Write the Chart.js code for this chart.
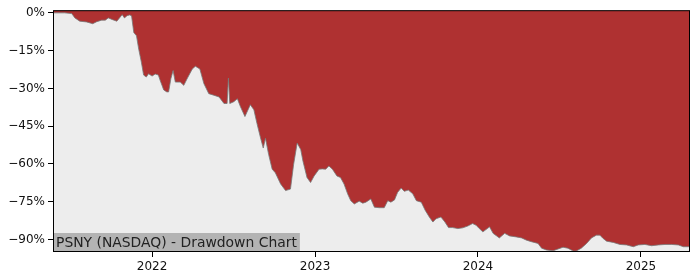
<!DOCTYPE html>
<html lang="en">
<head>
<meta charset="UTF-8">
<title>PSNY (NASDAQ) - Drawdown Chart</title>
<script src="https://cdn.jsdelivr.net/npm/chart.js@4.4.1/dist/chart.umd.min.js"></script>
<style>
    body { margin: 0; background: #fff; }
    .wrap { width: 700px; height: 280px; }
</style>
</head>
<body>
<div class="wrap"><canvas id="ddChart"></canvas></div>
<script>
// drawdown from the running high, in %
const dates = [
    '2021-05-24', '2021-06-19', '2021-07-05', '2021-07-12', '2021-07-23', '2021-08-07', '2021-08-21', '2021-08-30',
    '2021-09-10', '2021-09-18', '2021-09-25', '2021-10-03', '2021-10-14', '2021-10-20', '2021-10-26', '2021-10-31',
    '2021-11-06', '2021-11-12', '2021-11-16', '2021-11-21', '2021-11-27', '2021-12-02', '2021-12-08', '2021-12-13',
    '2021-12-19', '2021-12-24', '2022-01-01', '2022-01-08', '2022-01-15', '2022-01-19', '2022-01-27', '2022-02-03',
    '2022-02-07', '2022-02-12', '2022-02-17', '2022-02-22', '2022-03-05', '2022-03-13', '2022-03-20', '2022-04-01',
    '2022-04-08', '2022-04-18', '2022-04-27', '2022-05-08', '2022-05-19', '2022-05-31', '2022-06-11', '2022-06-18',
    '2022-06-21', '2022-06-24', '2022-07-03', '2022-07-11', '2022-07-18', '2022-07-28', '2022-08-09', '2022-08-17',
    '2022-08-24', '2022-09-01', '2022-09-07', '2022-09-12', '2022-09-19', '2022-09-27', '2022-10-04', '2022-10-16',
    '2022-10-27', '2022-11-07', '2022-11-14', '2022-11-22', '2022-11-30', '2022-12-05', '2022-12-14', '2022-12-22',
    '2022-12-30', '2023-01-10', '2023-01-17', '2023-01-25', '2023-02-01', '2023-02-09', '2023-02-19', '2023-02-27',
    '2023-03-07', '2023-03-15', '2023-03-22', '2023-03-30', '2023-04-10', '2023-04-18', '2023-04-25', '2023-05-06',
    '2023-05-14', '2023-05-25', '2023-06-05', '2023-06-13', '2023-06-20', '2023-06-28', '2023-07-05', '2023-07-13',
    '2023-07-20', '2023-07-29', '2023-08-08', '2023-08-16', '2023-08-27', '2023-09-05', '2023-09-14', '2023-09-22',
    '2023-09-29', '2023-10-10', '2023-10-19', '2023-10-27', '2023-11-05', '2023-11-17', '2023-11-28', '2023-12-09',
    '2023-12-20', '2023-12-28', '2024-01-04', '2024-01-12', '2024-01-19', '2024-01-27', '2024-02-04', '2024-02-18',
    '2024-03-01', '2024-03-12', '2024-03-27', '2024-04-08', '2024-04-19', '2024-04-30', '2024-05-15', '2024-05-23',
    '2024-06-03', '2024-06-18', '2024-06-29', '2024-07-10', '2024-07-21', '2024-08-02', '2024-08-09', '2024-08-20',
    '2024-09-01', '2024-09-12', '2024-09-23', '2024-10-01', '2024-10-08', '2024-10-16', '2024-10-31', '2024-11-15',
    '2024-11-30', '2024-12-15', '2024-12-26', '2025-01-10', '2025-01-25', '2025-02-09', '2025-02-24', '2025-03-11',
    '2025-03-26', '2025-04-06', '2025-04-21'
];
const drawdown = [
    0, 0, -0.3, -2.0, -3.3, -3.6, -4.3, -3.5,
    -2.9, -2.9, -2.0, -2.6, -3.3, -2.0, -0.7, -2.0,
    -1.1, -0.8, -1.2, -7.8, -9.1, -14.4, -19.6, -24.7,
    -25.5, -24.2, -25.1, -24.3, -24.7, -26.8, -30.6, -31.4,
    -31.4, -26.2, -22.9, -27.5, -27.5, -28.8, -26.3, -22.3,
    -21.2, -22.3, -28.1, -32.1, -32.7, -33.4, -36.0, -36.0,
    -25.9, -36.0, -35.3, -34.1, -37.3, -41.2, -36.5, -38.5,
    -44.0, -49.7, -53.7, -49.8, -56.2, -62.1, -63.5, -68.0,
    -70.6, -70.0, -60.2, -51.7, -54.3, -58.9, -65.4, -67.4,
    -64.8, -62.1, -62.0, -62.1, -60.8, -62.1, -64.8, -65.4,
    -68.0, -71.9, -74.6, -75.9, -74.8, -75.6, -75.2, -73.9,
    -77.2, -77.4, -77.4, -74.6, -75.2, -74.3, -71.3, -69.6,
    -70.9, -70.4, -71.9, -74.6, -75.2, -78.5, -81.1, -83.1,
    -81.8, -81.1, -83.1, -85.3, -85.3, -85.7, -85.4, -84.7,
    -83.7, -84.4, -85.7, -87.0, -86.1, -85.0, -87.6, -89.4,
    -87.6, -88.6, -89.0, -89.4, -90.3, -90.9, -91.6, -93.5,
    -94.2, -94.5, -93.8, -93.1, -93.5, -94.6, -94.6, -93.5,
    -91.6, -89.4, -88.3, -88.3, -89.6, -90.7, -91.2, -92.0,
    -92.2, -92.9, -92.2, -92.0, -92.5, -92.2, -92.0, -92.0,
    -92.2, -92.9, -92.9
];
const yTicks = [0, -15, -30, -45, -60, -75, -90];
const yearTicks = [2022, 2023, 2024, 2025];
const chartTitle = 'PSNY (NASDAQ) - Drawdown Chart';

function toYear(s) {
    const [y, m, d] = s.split('-').map(Number);
    const start = Date.UTC(y, 0, 1);
    const end = Date.UTC(y + 1, 0, 1);
    return y + (Date.UTC(y, m - 1, d) - start) / (end - start);
}

const points = dates.map((d, i) => ({ x: toYear(d), y: drawdown[i] }));

const frame = {
    id: 'frame',
    beforeDraw(chart) {
        const { ctx, chartArea: a } = chart;
        ctx.save();
        ctx.fillStyle = '#ededed';
        ctx.fillRect(a.left, a.top, a.right - a.left, a.bottom - a.top);
        ctx.restore();
    },
    afterDraw(chart) {
        const { ctx, chartArea: a } = chart;
        ctx.save();
        // title box in the lower left corner
        ctx.font = '13.9px "DejaVu Sans"';
        const w = ctx.measureText(chartTitle).width;
        ctx.fillStyle = '#b3b3b3';
        ctx.fillRect(a.left, a.bottom - 19, w + 6, 19);
        ctx.fillStyle = '#222';
        ctx.textBaseline = 'alphabetic';
        ctx.fillText(chartTitle, a.left + 3, a.bottom - 5);
        // spines
        ctx.strokeStyle = '#000';
        ctx.lineWidth = 1;
        ctx.strokeRect(a.left + 0.5, a.top + 0.5, a.right - a.left - 1, a.bottom - a.top - 1);
        ctx.restore();
    }
};

new Chart(document.getElementById('ddChart'), {
    type: 'line',
    data: {
        datasets: [{
            data: points,
            borderColor: 'rgba(120,120,120,0.8)',
            borderWidth: 1,
            backgroundColor: '#af3131',
            fill: 'end',
            pointRadius: 0,
            tension: 0
        }]
    },
    options: {
        responsive: true,
        maintainAspectRatio: false,
        animation: false,
        layout: { padding: { top: 7, right: 10, left: 0, bottom: 0 } },
        plugins: { legend: { display: false }, tooltip: { enabled: false } },
        scales: {
            x: {
                type: 'linear',
                min: points[0].x,
                max: points[points.length - 1].x,
                afterFit: s => { s.height = 28; },
                afterBuildTicks: s => { s.ticks = yearTicks.map(v => ({ value: v })); },
                grid: { drawOnChartArea: false, drawTicks: true, tickLength: 5, color: '#000' },
                border: { display: false },
                ticks: {
                    color: '#111',
                    font: { family: 'DejaVu Sans', size: 12 },
                    padding: 3,
                    maxRotation: 0,
                    callback: v => String(v)
                }
            },
            y: {
                min: -95,
                max: 1.06,
                afterFit: s => { s.width = 53; },
                afterBuildTicks: s => { s.ticks = yTicks.map(v => ({ value: v })); },
                grid: { drawOnChartArea: false, drawTicks: true, tickLength: 5, color: '#000' },
                border: { display: false },
                ticks: {
                    color: '#111',
                    font: { family: 'DejaVu Sans', size: 12 },
                    padding: 3,
                    callback: v => (v < 0 ? '\u2212' + Math.abs(v) : v) + '%'
                }
            }
        }
    },
    plugins: [frame]
});
</script>
</body>
</html>
